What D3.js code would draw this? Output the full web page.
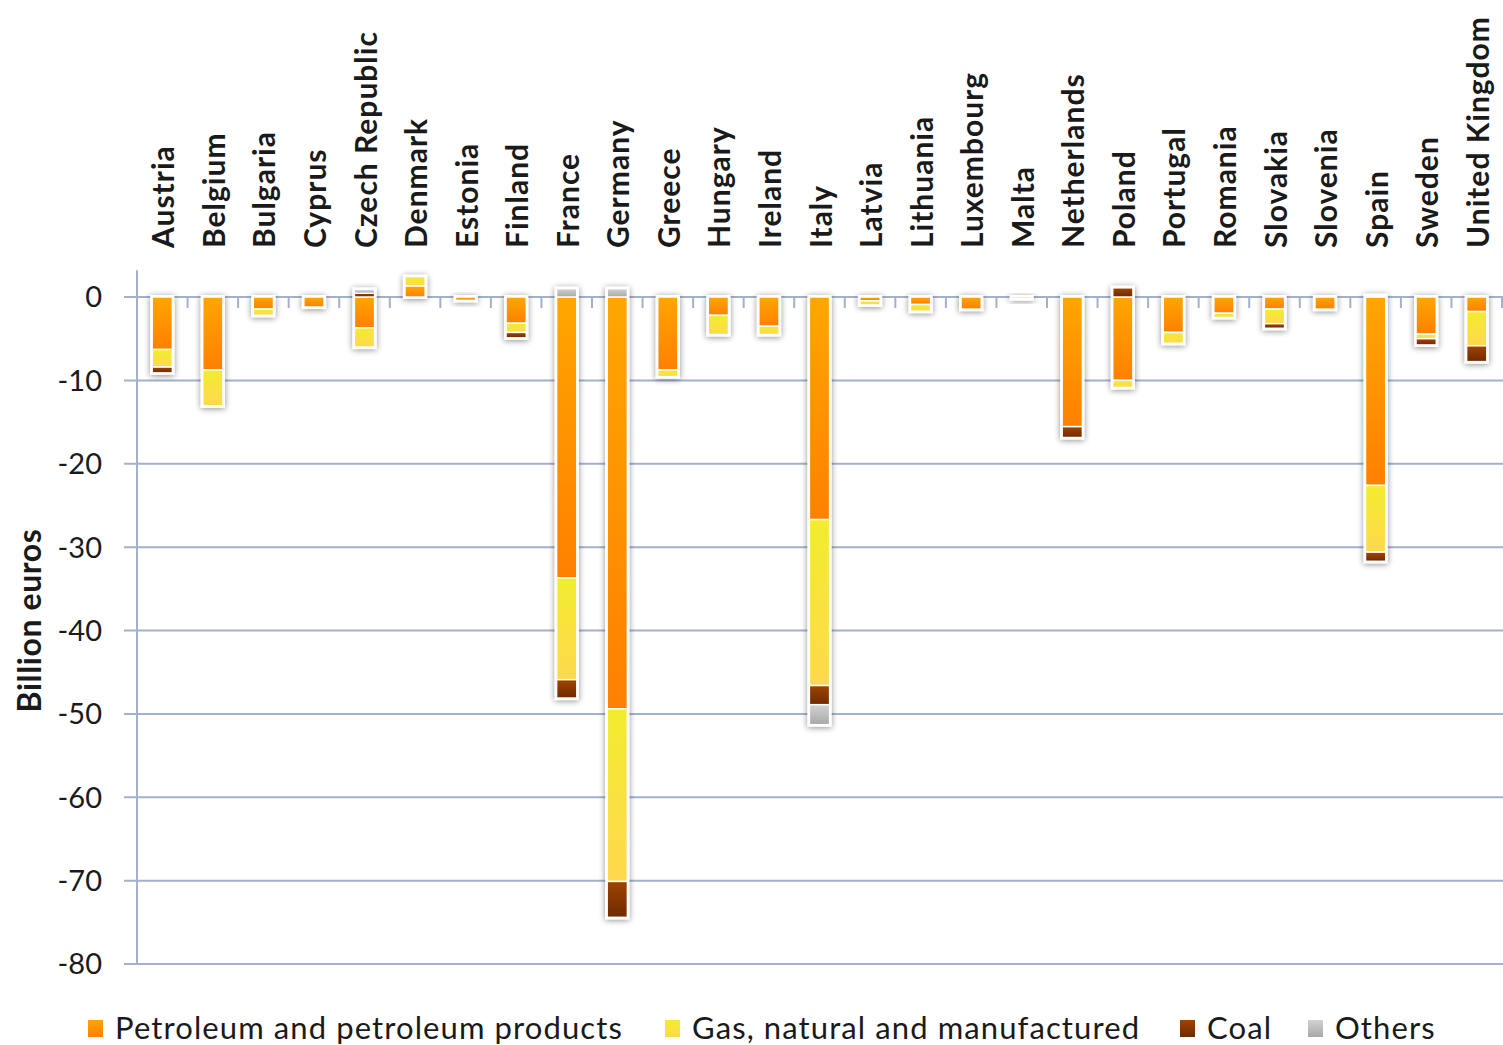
<!DOCTYPE html>
<html><head><meta charset="utf-8">
<script src="https://cdn.jsdelivr.net/npm/d3@7"></script>
<style>
html,body{margin:0;padding:0;background:#fff;}
svg{display:block;font-family:Lato,"Open Sans",sans-serif;}
</style></head>
<body>
<svg id="chart" width="1503" height="1045"></svg>
<script>
const categories = ["Austria","Belgium","Bulgaria","Cyprus","Czech Republic","Denmark","Estonia","Finland","France","Germany","Greece","Hungary","Ireland","Italy","Latvia","Lithuania","Luxembourg","Malta","Netherlands","Poland","Portugal","Romania","Slovakia","Slovenia","Spain","Sweden","United Kingdom"];
const seriesNames = ["Petroleum and petroleum products","Gas, natural and manufactured","Coal","Others"];
const petroleum = [-6.3,-8.75,-1.45,-1.2,-3.7,1.35,-0.4,-3.15,-33.7,-49.4,-8.75,-2.2,-3.5,-26.7,-0.45,-0.9,-1.45,-0.2,-15.55,-10.0,-4.25,-1.95,-1.45,-1.45,-22.6,-4.45,-1.75];
const gas       = [-2.1,-4.3,-0.75,0,-2.3,1.1,0,-1.1,-12.2,-20.7,-0.8,-2.3,-1.0,-19.9,-0.5,-0.8,0,0,0,-0.85,-1.3,-0.5,-1.75,0,-8.0,-0.55,-4.1];
const coal      = [-0.7,0,0,0,0.45,0,0,-0.65,-2.2,-4.3,0,0,0,-2.3,0,0,0,0,-1.3,1.1,0,0,-0.55,0,-1.1,-0.75,-1.9];
const others    = [0,0,0,0,0.45,0,0,0,1.0,1.0,0,0,0,-2.4,0,0,0,0,0,0,0,0,0,0,0.15,0,0];
const yTicks = [0,-10,-20,-30,-40,-50,-60,-70,-80];
const yTitle = "Billion euros";

const gradStops = [
  ["#FFA600","#FF8000"],
  ["#F2EC2E","#FFD84E"],
  ["#A04400","#6E2A00"],
  ["#D2D2D2","#A8A8A8"]
];

const svg = d3.select("#chart");
const defs = svg.append("defs");
gradStops.forEach((g,i)=>{
  const lg = defs.append("linearGradient").attr("id","g"+i).attr("x1",0).attr("y1",0).attr("x2",0).attr("y2",1);
  lg.append("stop").attr("offset","0%").attr("stop-color",g[0]);
  lg.append("stop").attr("offset","100%").attr("stop-color",g[1]);
});
const f = defs.append("filter").attr("id","shadow").attr("x","-50%").attr("y","-50%").attr("width","200%").attr("height","200%");
f.append("feGaussianBlur").attr("in","SourceAlpha").attr("stdDeviation",3).attr("result","b");
f.append("feOffset").attr("in","b").attr("dx",0).attr("dy",1).attr("result","o");
f.append("feComponentTransfer").attr("in","o").attr("result","s").append("feFuncA").attr("type","linear").attr("slope",0.45);
const fm = f.append("feMerge"); fm.append("feMergeNode").attr("in","s"); fm.append("feMergeNode").attr("in","SourceGraphic");

const x0 = 137, x1 = 1502;
const x = d3.scaleBand().domain(categories).range([x0,x1]).paddingInner(0.6).paddingOuter(0.3);
const y = d3.scaleLinear().domain([-80,0]).range([964,297]);
const gridColor = "#A3B1CC";

// gridlines
svg.append("g").selectAll("line").data(yTicks).join("line")
  .attr("x1",124).attr("x2",1503).attr("y1",d=>y(d)).attr("y2",d=>y(d))
  .attr("stroke",gridColor).attr("stroke-width",2);
// y axis line
svg.append("line").attr("x1",x0).attr("x2",x0).attr("y1",y(3.2)).attr("y2",y(-80)).attr("stroke",gridColor).attr("stroke-width",2);
// x tick marks at band boundaries
svg.append("g").selectAll("line").data(d3.range(1,categories.length+1)).join("line")
  .attr("x1",i=>x0+i*x.step()).attr("x2",i=>x0+i*x.step())
  .attr("y1",y(0)).attr("y2",y(0)+11).attr("stroke",gridColor).attr("stroke-width",2);

// y tick labels
svg.append("g").selectAll("text").data(yTicks).join("text")
  .attr("x",102).attr("y",d=>y(d)).attr("dy","0.36em").attr("text-anchor","end")
  .attr("font-size",29).attr("fill","#1a1a1a").text(d=>d);

// y title
svg.append("text").attr("transform",`translate(41,${y(-38.8)}) rotate(-90)`)
  .attr("text-anchor","middle").attr("font-size",32).attr("font-weight","bold").attr("letter-spacing",0.6).attr("fill","#1a1a1a").text(yTitle);

// category labels
svg.append("g").selectAll("text").data(categories).join("text")
  .attr("transform",d=>`translate(${x(d)+x.bandwidth()/2+12},248) rotate(-90)`)
  .attr("text-anchor","start").attr("font-size",30).attr("font-weight","bold").attr("letter-spacing",1)
  .attr("fill","#1a1a1a").text(d=>d);

// stacked data
const rows = categories.map((c,i)=>({cat:c, s0:petroleum[i], s1:gas[i], s2:coal[i], s3:others[i]}));
const keys = ["s0","s1","s2","s3"];
const stack = d3.stack().keys(keys).offset(d3.stackOffsetDiverging)(rows);

// per-bar white backing with shadow
const ext = rows.map((r,i)=>{
  let lo=0,hi=0; stack.forEach(s=>{lo=Math.min(lo,s[i][0],s[i][1]);hi=Math.max(hi,s[i][0],s[i][1]);});
  return {cat:r.cat,lo,hi};
});
svg.append("g").selectAll("rect").data(ext).join("rect")
  .attr("x",d=>x(d.cat)-2).attr("width",x.bandwidth()+4)
  .attr("y",d=>y(d.hi)-2).attr("height",d=>Math.max(4,y(d.lo)-y(d.hi)+4))
  .attr("fill","#fff").attr("filter","url(#shadow)");

svg.append("g").selectAll("g").data(stack).join("g")
  .attr("fill",(d,i)=>`url(#g${i})`)
  .selectAll("rect").data(d=>d.filter(p=>p[1]!==p[0]).map(p=>({p,cat:p.data.cat}))).join("rect")
  .attr("x",d=>x(d.cat)).attr("width",x.bandwidth())
  .attr("y",d=>y(Math.max(d.p[0],d.p[1])))
  .attr("height",d=>Math.abs(y(d.p[0])-y(d.p[1])))
  .attr("stroke","#fff").attr("stroke-width",1.5);

// legend
const legX = [88,665,1180,1308];
const lg = svg.append("g").selectAll("g").data(seriesNames).join("g")
  .attr("transform",(d,i)=>`translate(${legX[i]},1020)`);
lg.append("rect").attr("width",15).attr("height",17).attr("fill",(d,i)=>`url(#g${i})`);
lg.append("text").attr("x",27).attr("y",19).attr("font-size",31).attr("letter-spacing",1.1).attr("fill","#1a1a1a").text(d=>d);
</script>
</body></html>
